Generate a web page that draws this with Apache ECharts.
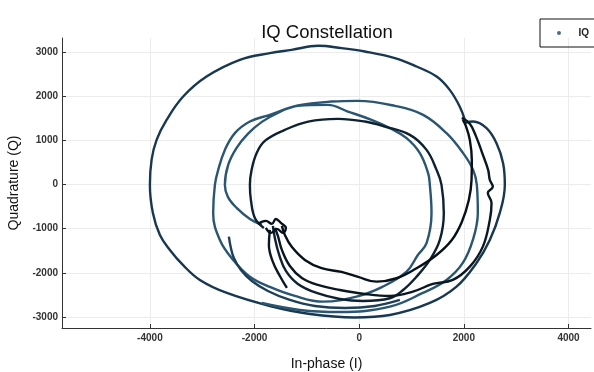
<!DOCTYPE html>
<html>
<head>
<meta charset="utf-8">
<script src="https://cdn.jsdelivr.net/npm/echarts@6/dist/echarts.min.js"></script>
<style>html,body{margin:0;padding:0;background:#fff}#c{width:594px;height:372px}</style>
</head>
<body>
<div id="c"></div>
<script>
const xTicks = [-4000, -2000, 0, 2000, 4000];
const yTicks = [-3000, -2000, -1000, 0, 1000, 2000, 3000];
const xRange = [-5680, 4430];
const yRange = [-3250, 3320];

const curveOuter = [[2020,1465],[1920,1770],[1730,2145],[1480,2447],[1096,2674],[681,2864],[108,3014],[-337,3091],[-784,3143],[-1293,3052],[-1707,2977],[-2280,2825],[-2917,2447],[-3364,1994],[-3681,1465],[-3872,1012],[-3968,559],[-4000,-8],[-3943,-643],[-3809,-1141],[-3618,-1481],[-3370,-1821],[-3045,-2161],[-2529,-2456],[-1707,-2751],[-943,-2932],[-83,-3011],[586,-2955],[1350,-2683],[1860,-2313],[2242,-1776],[2496,-1255],[2687,-643],[2783,-8],[2750,484],[2624,937],[2433,1277],[2177,1427],[2019,1397]];

const curveSpiral = [[-1860,-2683],[-1134,-2841],[-370,-2887],[586,-2767],[1216,-2456],[1669,-2161],[1980,-1776],[2172,-1255],[2267,-643],[2248,-8],[2177,332],[1986,711],[1669,1164],[1222,1579],[681,1783],[-26,1896],[-528,1880],[-1172,1790],[-1707,1579],[-2089,1427],[-2376,1164],[-2567,785],[-2695,332],[-2758,-8],[-2791,-649],[-2663,-1255],[-2408,-1708],[-2089,-2087],[-1707,-2320],[-1230,-2524],[-695,-2653],[-51,-2540],[452,-2313],[905,-1973],[1121,-1595],[1287,-1329],[1382,-649],[1350,-8],[1317,257],[1159,711],[905,1051],[586,1277],[236,1465],[-217,1654],[-599,1805],[-1172,1783],[-1516,1647],[-1860,1420],[-2128,1148],[-2343,831],[-2504,445],[-2567,-8],[-2510,-280],[-2343,-529],[-2089,-779],[-1860,-915]];

const curveInner = [[-1822,-983],[-1994,-756],[-2070,-348],[-2089,-8],[-2057,332],[-1961,711],[-1803,989],[-1421,1239],[-975,1427],[-402,1488],[108,1427],[490,1314],[968,1125],[1287,785],[1478,332],[1573,-8],[1617,-649],[1541,-1255],[1350,-1708],[1096,-2087],[840,-2388],[586,-2576],[70,-2637],[-370,-2592],[-815,-2456],[-1172,-2252],[-1401,-1957],[-1535,-1572],[-1612,-1209],[-1650,-937]];

const curveArc = [[-1478,-937],[-1421,-1141],[-1293,-1406],[-1038,-1708],[-719,-1896],[-337,-1980],[-20,-2093],[332,-2200],[714,-2123],[1096,-1896],[1478,-1595],[1770,-1255],[1961,-847],[2095,-348],[2147,105],[2152,559],[2114,1012],[2038,1329],[1980,1465]];

const curveWiggle = [[1961,1511],[2114,1375],[2229,1103],[2343,740],[2464,332],[2496,105],[2554,-46],[2458,-189],[2529,-416],[2496,-801],[2363,-1406],[2114,-1860],[1789,-2161],[1407,-2252],[1025,-2427],[586,-2524],[108,-2479],[-370,-2388],[-790,-2275],[-1096,-2116],[-1325,-1844],[-1478,-1481],[-1554,-1164],[-1612,-983]];

const curveTail = [[-1707,-1028],[-1726,-1368],[-1650,-1753],[-1516,-2071],[-1382,-2343]];

const curveStub = [[-2491,-1180],[-2452,-1436],[-2395,-1663],[-2261,-1935],[-2051,-2184],[-1745,-2411],[-1325,-2615],[-847,-2751],[-274,-2796],[299,-2751],[777,-2615]];

const curveKnot = [[-1937,-892],[-1784,-824],[-1669,-892],[-1593,-779],[-1497,-869],[-1401,-983],[-1459,-1096],[-1573,-1005],[-1688,-1096],[-1784,-983]];

const curves = [
  {data: curveOuter, color: '#173850'},
  {data: curveSpiral, color: '#2a5672'},
  {data: curveStub, color: '#1d4058'},
  {data: curveInner, color: '#0e2130'},
  {data: curveWiggle, color: '#0a1822'},
  {data: curveArc, color: '#061119'},
  {data: curveTail, color: '#0a1822'},
  {data: curveKnot, color: '#061119'}
];

const chart = echarts.init(document.getElementById('c'), null, {renderer: 'canvas'});
const font = 'Liberation Sans, Arial, sans-serif';

const gridSeries = {
  type: 'line', data: [], silent: true, z: 0,
  markLine: {
    silent: true, symbol: 'none', animation: false, z: 0,
    label: {show: false},
    lineStyle: {color: '#ececec', width: 1, type: 'solid'},
    data: xTicks.map(v => ({xAxis: v})).concat(yTicks.map(v => ({yAxis: v})))
  }
};

const series = [gridSeries].concat(curves.map(c => ({
  name: 'IQ', type: 'line', data: c.data, smooth: 0.4, showSymbol: false, z: 3,
  lineStyle: {color: c.color, width: 2.4}, itemStyle: {color: c.color}
})));

chart.setOption({
  animation: false,
  backgroundColor: '#ffffff',
  title: {
    text: 'IQ Constellation', left: 322, top: 18, textAlign: 'center',
    textStyle: {fontFamily: font, fontSize: 18.5, fontWeight: 'normal', color: '#111'}
  },
  legend: {
    left: 540, top: 19,
    padding: [9, 40, 9, 17],
    borderColor: '#111', borderWidth: 1,
    itemWidth: 29, itemHeight: 4,
    data: [{name: 'IQ', icon: 'circle', itemStyle: {color: '#4d6d84'}}],
    textStyle: {fontFamily: font, fontSize: 10, fontWeight: 'bold', color: '#222'}
  },
  grid: {left: 62, right: 3, top: 38, bottom: 44, containLabel: false, outerBoundsMode: 'none'},
  xAxis: {
    type: 'value', min: xRange[0], max: xRange[1],
    name: 'In-phase (I)', nameLocation: 'middle', nameGap: 29,
    nameTextStyle: {fontFamily: font, fontSize: 14, color: '#111'},
    axisLine: {show: true, onZero: false, lineStyle: {color: '#333', width: 1}},
    axisTick: {show: true, inside: true, length: 4, customValues: xTicks, lineStyle: {color: '#333'}},
    axisLabel: {customValues: xTicks, margin: 5, formatter: v => String(v), fontFamily: font, fontSize: 10, fontWeight: 'bold', color: '#333'},
    splitLine: {show: false}
  },
  yAxis: {
    type: 'value', min: yRange[0], max: yRange[1],
    name: 'Quadrature (Q)', nameLocation: 'middle', nameGap: 33, nameRotate: 90,
    nameTextStyle: {fontFamily: font, fontSize: 14, color: '#111'},
    axisLine: {show: true, onZero: false, lineStyle: {color: '#333', width: 1}},
    axisTick: {show: true, inside: true, length: 4, customValues: yTicks, lineStyle: {color: '#333'}},
    axisLabel: {customValues: yTicks, margin: 4, formatter: v => String(v), fontFamily: font, fontSize: 10, fontWeight: 'bold', color: '#333'},
    splitLine: {show: false}
  },
  series: series
});
</script>
</body>
</html>
